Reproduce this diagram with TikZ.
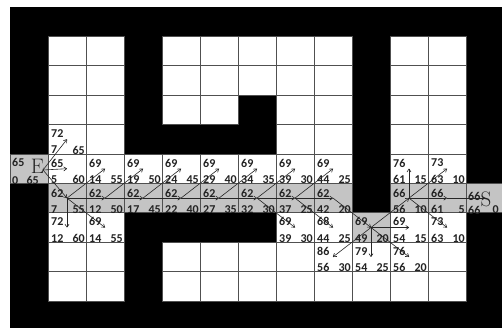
\documentclass[tikz,border=0pt]{standalone}
\usepackage{fontspec}
\newfontfamily\numfont{Carlito}
\usetikzlibrary{arrows.meta}
\definecolor{cellgray}{RGB}{196,196,196}
\definecolor{gridc}{RGB}{80,80,80}
\definecolor{txt}{RGB}{35,35,35}
\begin{document}
\begin{tikzpicture}[x=1pt,y=-1pt,
  wcell/.style={fill=white,draw=gridc,line width=0.6pt},
  gcell/.style={fill=cellgray,draw=gridc,line width=0.6pt},
  num/.style={inner sep=0pt,font=\numfont\bfseries\fontsize{12}{12}\selectfont,text=txt},
  big/.style={inner sep=0pt,font=\fontsize{21}{21}\selectfont,text=txt},
  arr/.style={-{To[length=3.5pt,width=4.5pt]},line width=0.6pt,draw=black!85}]
\useasboundingbox (0,0) rectangle (502,328);
\fill[white] (0,0) rectangle (502,328);
\fill[black] (10,7) rectangle (502,328);
% white cells
\foreach \r/\cols in {1/{1,2,4,5,6,7,8,10,11},2/{1,2,4,5,6,7,8,10,11},3/{1,2,4,5,7,8,10,11},4/{1,2,7,8,10,11},5/{1,2,3,4,5,6,7,8,10,11},7/{1,2,7,8,10,11},8/{1,2,4,5,6,7,8,9,10,11},9/{1,2,4,5,6,7,8,9,10,11}}{
  \foreach \c in \cols {
    \draw[wcell] ({10+38*\c},{7+29.4*\r}) rectangle ++(38,29.4);
  }
}
% gray cells
\foreach \r/\c in {5/0,6/1,6/2,6/3,6/4,6/5,6/6,6/7,6/8,6/10,6/11,6/12,7/9}{
  \draw[gcell] ({10+38*\c},{7+29.4*\r}) rectangle ++(38,29.4);
}
% cell centres
\foreach \r in {4,5,6,7,8}{
  \foreach \c in {0,...,12}{
    \coordinate (c\r-\c) at ({29+38*\c},{21.7+29.4*\r});
  }
}
% labels
\foreach \r/\c/\f/\g/\h in {4/1/72/7/65,5/1/65/5/60,5/2/69/14/55,5/3/69/19/50,5/4/69/24/45,5/5/69/29/40,5/6/69/34/35,5/7/69/39/30,5/8/69/44/25,5/10/76/61/15,5/11/73/63/10,
  6/1/62/7/55,6/2/62/12/50,6/3/62/17/45,6/4/62/22/40,6/5/62/27/35,6/6/62/32/30,6/7/62/37/25,6/8/62/42/20,6/10/66/56/10,6/11/66/61/5,
  7/1/72/12/60,7/2/69/14/55,7/7/69/39/30,7/8/68/44/25,7/9/69/49/20,7/10/69/54/15,7/11/73/63/10,
  8/8/86/56/30,8/9/79/54/25,8/10/76/56/20}{
  \pgfmathsetmacro\X{10+38*\c}
  \pgfmathsetmacro\Y{7+29.4*\r}
  \ifnum\r=6 \def\fo{10.5}\def\go{26.5}\else\def\fo{9}\def\go{25.5}\fi
  \node[num,anchor=west] (f\r-\c) at ({\X+3},{\Y+\fo}) {\f};
  \node[num,anchor=west] (g\r-\c) at ({\X+3},{\Y+\go}) {\g};
  \node[num,anchor=east] (h\r-\c) at ({\X+37},{\Y+\go}) {\h};
}
% start cell
\node[num,anchor=west] (f5-0) at (12,162.5) {65};
\node[num,anchor=west] (g5-0) at (12,180.5) {0};
\node[num,anchor=east] (h5-0) at (39,180.5) {65};
% goal cell
\node[num,anchor=west] (f6-12) at (468,196) {66};
\node[num,anchor=west] (g6-12) at (468,210) {66};
\node[num,anchor=east] (h6-12) at (499,210) {0};
\node[big] (E) at (37.5,166) {E};
\node[big] (S) at (486,199) {S};
\coordinate (Eo) at (43,170);
% arrows
\foreach \a/\b in {Eo/c4-1,Eo/c5-1,Eo/c6-1,
  c6-1/c5-2,c6-1/c6-2,c6-1/c7-1,c6-1/c7-2,
  c6-2/c5-3,c6-2/c6-3,c6-3/c5-4,c6-3/c6-4,c6-4/c5-5,c6-4/c6-5,c6-5/c5-6,c6-5/c6-6,
  c6-6/c5-7,c6-6/c6-7,c6-6/c7-7,c6-7/c5-8,c6-7/c6-8,c6-7/c7-8,c6-8/c7-9,
  c7-9/c6-10,c7-9/c7-10,c7-9/c8-10,c7-9/c8-9,c7-9/c8-8,
  c6-10/c5-10,c6-10/c5-11,c6-10/c6-11,c6-10/c7-11,c6-11/c6-12}{
  \draw[arr] (\a) -- (\b);
}
\end{tikzpicture}
\end{document}
